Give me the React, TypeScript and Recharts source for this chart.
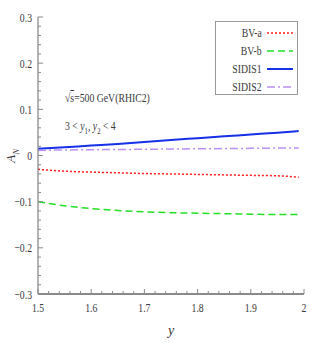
import React from "react";
import { LineChart, Line, XAxis, YAxis } from "recharts";

const yValues = [1.5, 1.55, 1.6, 1.65, 1.7, 1.75, 1.8, 1.85, 1.9, 1.95, 1.99];
const bvA = [-0.03, -0.034, -0.036, -0.0375, -0.039, -0.04, -0.041, -0.042, -0.043, -0.044, -0.047];
const bvB = [-0.1, -0.109, -0.115, -0.119, -0.122, -0.124, -0.125, -0.126, -0.127, -0.128, -0.128];
const sidis1 = [0.0145, 0.018, 0.0215, 0.025, 0.029, 0.0335, 0.0375, 0.0415, 0.0455, 0.0495, 0.053];
const sidis2 = [0.011, 0.012, 0.0125, 0.013, 0.0135, 0.014, 0.0145, 0.015, 0.0155, 0.016, 0.016];

const xTicks = Array.from({ length: 26 }, (_, i) => +(1.5 + i * 0.02).toFixed(2));
const yTicks = Array.from({ length: 31 }, (_, i) => +(-0.3 + i * 0.02).toFixed(2));
const xLabels = [1.5, 1.6, 1.7, 1.8, 1.9, 2];
const yLabels = [-0.3, -0.2, -0.1, 0, 0.1, 0.2, 0.3];

const data = yValues.map((y, i) => ({ y, bvA: bvA[i], bvB: bvB[i], sidis1: sidis1[i], sidis2: sidis2[i] }));

const FONT = "Liberation Serif";
const AXIS = "#8a8a8a";
const TEXT = "#3a3a3a";
const SX = 0.78; // the reference text is narrow, squeeze it

const series = [
  { key: "bvA", name: "BV-a", color: "#ff1a1a", dash: "2 2", width: 1.5 },
  { key: "bvB", name: "BV-b", color: "#22e022", dash: "7 4", width: 1.5 },
  { key: "sidis1", name: "SIDIS1", color: "#1530e8", dash: undefined, width: 2 },
  { key: "sidis2", name: "SIDIS2", color: "#b890f5", dash: "8 3 2 3", width: 1.5 },
];

const isMajor = (v: number, list: number[]) => list.some((m) => Math.abs(m - v) < 1e-6);
const fmt = (v: number) => (v < 0 ? "\u2212" + Math.abs(v) : String(v));

function BottomTick({ x, y, payload }: any) {
  const major = isMajor(payload.value, xLabels);
  return (
    <g>
      <line x1={x} x2={x} y1={y} y2={y - (major ? 5 : 3)} stroke={AXIS} strokeWidth={1} />
      {major && (
        <text
          transform={`translate(${x},${y + 18}) scale(${SX},1)`} textAnchor="middle"
          style={{ fontFamily: FONT }} fontSize={12.5} fill={TEXT}
        >
          {String(payload.value)}
        </text>
      )}
    </g>
  );
}

function TopTick({ x, y, payload }: any) {
  const major = isMajor(payload.value, xLabels);
  return <line x1={x} x2={x} y1={y} y2={y + (major ? 5 : 3)} stroke={AXIS} strokeWidth={1} />;
}

function LeftTick({ x, y, payload }: any) {
  const major = isMajor(payload.value, yLabels);
  return (
    <g>
      <line x1={x} x2={x + (major ? 5 : 3)} y1={y} y2={y} stroke={AXIS} strokeWidth={1} />
      {major && (
        <text
          transform={`translate(${x - 6},${y + 4.5}) scale(${SX},1)`} textAnchor="end"
          style={{ fontFamily: FONT }} fontSize={12.5} fill={TEXT}
        >
          {fmt(payload.value)}
        </text>
      )}
    </g>
  );
}

function RightTick({ x, y, payload }: any) {
  const major = isMajor(payload.value, yLabels);
  return <line x1={x} x2={x - (major ? 5 : 3)} y1={y} y2={y} stroke={AXIS} strokeWidth={1} />;
}

const squeeze = (origin: string): React.CSSProperties => ({
  display: "inline-block", transform: `scaleX(${SX})`, transformOrigin: origin, whiteSpace: "nowrap",
});

function LegendBox() {
  return (
    <div
      style={{
        position: "absolute", left: 215, top: 21, width: 81, height: 72,
        border: "1px solid #999", background: "#fff", fontSize: 12.5, color: TEXT,
      }}
    >
      {series.map((s, i) => (
        <div key={s.key} style={{ position: "absolute", top: 3 + i * 18, left: 0, width: 81, height: 16 }}>
          <span style={{ position: "absolute", right: 35, top: 0, lineHeight: "16px", ...squeeze("right") }}>{s.name}</span>
          <svg style={{ position: "absolute", left: 50, top: 0 }} width={28} height={16}>
            <line x1={1} x2={27} y1={8} y2={8} stroke={s.color} strokeWidth={s.width} strokeDasharray={s.dash} />
          </svg>
        </div>
      ))}
    </div>
  );
}

export default function App() {
  return (
    <div style={{ position: "absolute", left: 0, top: 0, width: 322, height: 343, background: "#fff", fontFamily: FONT }}>
      <LineChart width={322} height={343} data={data} margin={{ top: 17, right: 18, left: 0, bottom: 0 }}>
        <XAxis
          dataKey="y" type="number" domain={[1.5, 2]} ticks={xTicks} interval={0}
          height={49} tickSize={0} tickMargin={0} tick={<BottomTick />}
          stroke={AXIS} strokeWidth={1.8}
        />
        <XAxis
          xAxisId="top" orientation="top" dataKey="y" type="number" domain={[1.5, 2]} ticks={xTicks}
          interval={0} height={0} tickSize={0} tickMargin={0} tick={<TopTick />} stroke={AXIS}
        />
        <YAxis
          type="number" domain={[-0.3, 0.3]} ticks={yTicks} interval={0} width={38}
          tickSize={0} tickMargin={0} tick={<LeftTick />} stroke={AXIS} strokeWidth={1.3}
        />
        <YAxis
          yAxisId="right" orientation="right" type="number" domain={[-0.3, 0.3]} ticks={yTicks}
          interval={0} width={0} tickSize={0} tickMargin={0} tick={<RightTick />} stroke={AXIS}
        />
        {series.map((s) => (
          <Line
            key={s.key} dataKey={s.key} name={s.name} type="monotone" stroke={s.color}
            strokeWidth={s.width} strokeDasharray={s.dash} dot={false} isAnimationActive={false}
          />
        ))}
      </LineChart>
      <LegendBox />
      <div style={{ position: "absolute", left: 65, top: 91, fontSize: 12.5, color: TEXT }}>
        <span style={squeeze("left")}>
          √<span style={{ textDecoration: "overline" }}>s</span>=500 GeV(RHIC2)
        </span>
      </div>
      <div style={{ position: "absolute", left: 65, top: 119, fontSize: 12.5, color: TEXT }}>
        <span style={squeeze("left")}>
          3 &lt; <i>y</i><sub style={{ fontSize: 8.5 }}>1</sub>, <i>y</i><sub style={{ fontSize: 8.5 }}>2</sub> &lt; 4
        </span>
      </div>
      <div
        style={{
          position: "absolute", left: 5, top: 147, fontSize: 13, color: TEXT,
          transform: "rotate(-90deg)", transformOrigin: "center", whiteSpace: "nowrap",
        }}
      >
        <i>A</i><sub style={{ fontSize: 9, fontStyle: "italic" }}>N</sub>
      </div>
      <div style={{ position: "absolute", left: 168, top: 323, fontSize: 14, color: TEXT, fontStyle: "italic" }}>
        y
      </div>
    </div>
  );
}
